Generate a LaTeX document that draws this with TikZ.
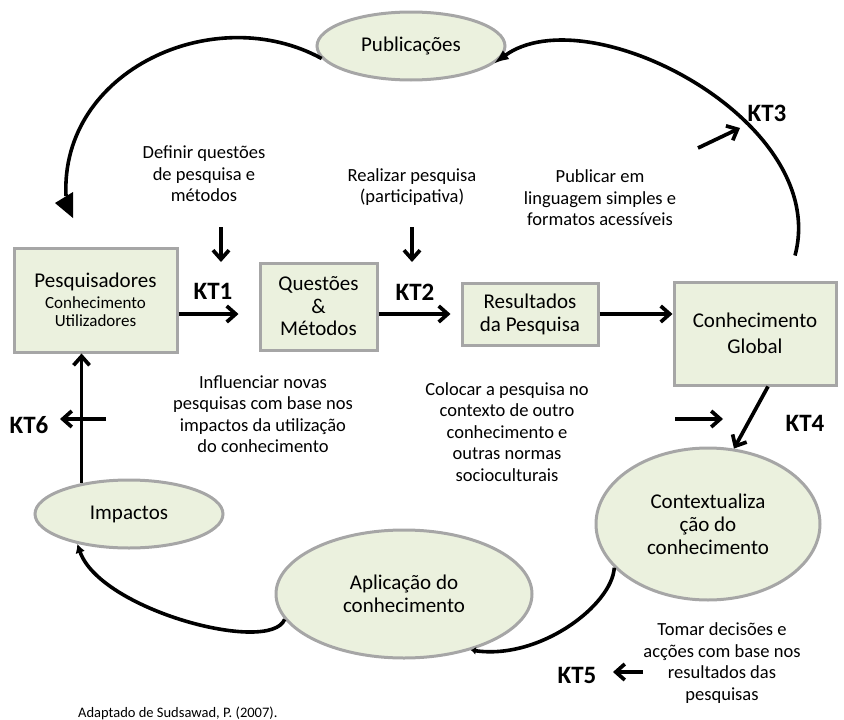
\documentclass[tikz,border=0pt]{standalone}
\usepackage{fontspec}
\setmainfont{Carlito}
\usetikzlibrary{arrows.meta,shapes.geometric,calc}
\definecolor{boxfill}{HTML}{EBF1DE}
\definecolor{boxline}{HTML}{A6A6A6}
\begin{document}
\begin{tikzpicture}[x=1pt,y=-1pt,
  boxnode/.style={draw=boxline, fill=boxfill, line width=3pt, rectangle, inner sep=0pt, align=center},
  ellnode/.style={draw=boxline, fill=boxfill, line width=3pt, ellipse, inner sep=0pt, align=center},
  mainlbl/.style={font=\fontsize{21}{23}\selectfont},
  desc/.style={align=center, font=\fontsize{18.5}{21.5}\selectfont, inner sep=0pt},
  ktlabel/.style={font=\bfseries\fontsize{25}{27}\selectfont, inner sep=0pt},
  arr/.style={line width=3.7pt, -{Straight Barb[length=9pt,width=16pt]}},
  curve/.style={line width=3.6pt},
]
\useasboundingbox (0,0) rectangle (844,720);

% boxes
\node[boxnode, minimum width=163pt, minimum height=104pt, font=\fontsize{17}{18.5}\selectfont] (pesq) at (95.5,300)
  {{\fontsize{21}{21}\selectfont Pesquisadores}\\[2pt]Conhecimento\\Utilizadores};
\node[boxnode, minimum width=117pt, minimum height=87pt, font=\fontsize{21}{22.5}\selectfont] (quest) at (318.5,306.5)
  {Questões\\\&\\Métodos};
\node[boxnode, minimum width=136pt, minimum height=62pt, font=\fontsize{21}{23}\selectfont] (res) at (530,314)
  {Resultados\\da Pesquisa};
\node[boxnode, minimum width=162pt, minimum height=103pt, font=\fontsize{21}{26}\selectfont] (glob) at (755,333.5)
  {Conhecimento\\Global};

% ellipses
\node[ellnode, minimum width=188pt, minimum height=68pt, mainlbl] (pub) at (411,46) {Publicações};
\node[ellnode, minimum width=188pt, minimum height=68pt, mainlbl] (imp) at (129,514) {Impactos};
\node[ellnode, minimum width=256pt, minimum height=128pt, mainlbl] (aplic) at (404,594) {Aplicação do\\conhecimento};
\node[ellnode, minimum width=224pt, minimum height=152pt, mainlbl] (ctx) at (708,524) {Contextualiza\\ção do\\conhecimento};

% descriptions
\node[desc] (t1) at (204,174) {Definir questões\\de pesquisa e\\métodos};
\node[desc] (t2) at (412,187) {Realizar pesquisa\\(participativa)};
\node[desc] (t3) at (600,198) {Publicar em\\linguagem simples e\\formatos acessíveis};
\node[desc] (t4) at (263,414) {Influenciar novas\\pesquisas com base nos\\impactos da utilização\\do conhecimento};
\node[desc] (t5) at (507,432) {Colocar a pesquisa no\\contexto de outro\\conhecimento e\\outras normas\\socioculturais};
\node[desc] (t6) at (722,663) {Tomar decisões e\\acções com base nos\\resultados das\\pesquisas};
\node[font=\fontsize{14.5}{16}\selectfont, anchor=west, inner sep=0pt] (src) at (78,713) {Adaptado de Sudsawad, P. (2007).};

% KT labels
\node[ktlabel] (kt1) at (213,291) {KT1};
\node[ktlabel] (kt2) at (415,292) {KT2};
\node[ktlabel] (kt3) at (767,113) {KT3};
\node[ktlabel] (kt4) at (805,423) {KT4};
\node[ktlabel] (kt5) at (577,675) {KT5};
\node[ktlabel] (kt6) at (29,425) {KT6};

% free coordinates
\coordinate (d1s) at (221,227); \coordinate (d1e) at (221,262);
\coordinate (d2s) at (412,227); \coordinate (d2e) at (412,262);
\coordinate (k3s) at (698,148); \coordinate (k3e) at (740,128);
\coordinate (k4s) at (675,419); \coordinate (k4e) at (723,419);
\coordinate (k5s) at (643,672); \coordinate (k5e) at (613,672);
\coordinate (k6s) at (106,419); \coordinate (k6e) at (60,419);
\coordinate (lt) at (66,196);

% straight connectors
\draw[arr, shorten >=20pt] (pesq.east |- res.west) -- (quest.west |- res.west);
\draw[arr, shorten >=10pt] (quest.east |- res.west) -- (res.west);
\draw[arr] (res.east) -- (glob.west |- res.east);
\draw[arr] ($(glob.south)+(13,0)$) -- (ctx.71);
\draw[arr] (imp.147) -- (imp.147 |- pesq.south);
\draw[arr] (d1s) -- (d1e);
\draw[arr] (d2s) -- (d2e);
\draw[arr] (k3s) -- (k3e);
\draw[arr] (k4s) -- (k4e);
\draw[arr] (k5s) -- (k5e);
\draw[arr] (k6s) -- (k6e);

% curved connectors
\draw[curve] (pub.188) .. controls (215,0) and (60,70) .. (lt);
\fill (55,203) -- (73,192) -- (73,218) -- cycle;
\draw[curve, -{Latex[length=15pt,width=11pt]}] ($(glob.north)+(40,-25)$) .. controls (831,121) and (588,-5) .. (pub.-12);
\draw[curve, -{Latex[length=9pt,width=10pt]}] (aplic.192) .. controls (270,655) and (100,610) .. (imp.210);
\draw[curve, -{Latex[length=5pt,width=8pt]}] (ctx.205) .. controls (612,605) and (540,660) .. (aplic.-40);
\end{tikzpicture}
\end{document}
